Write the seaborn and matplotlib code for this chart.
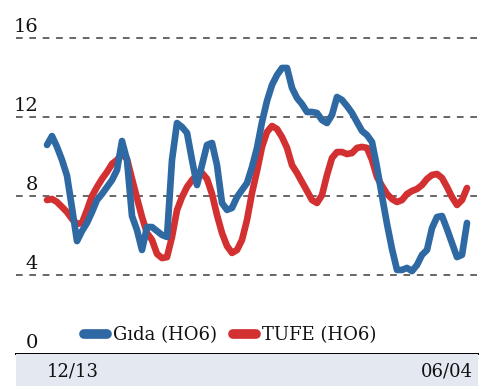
import numpy as np
import pandas as pd
import matplotlib
matplotlib.use("Agg")
import matplotlib.pyplot as plt
import seaborn as sns
from matplotlib.lines import Line2D

# ---- data ----
gida = [10.59, 11.04, 10.49, 9.83, 9.03, 7.40, 5.72, 6.23, 6.64, 7.19,
        7.80, 8.11, 8.46, 8.81, 9.32, 10.79, 9.83, 6.99, 6.28, 5.27,
        6.43, 6.43, 6.23, 6.03, 5.93, 9.83, 11.70, 11.50, 11.20, 9.83,
        8.56, 9.57, 10.59, 10.69, 9.57, 7.65, 7.30, 7.40, 7.95, 8.31,
        8.66, 9.47, 10.44, 11.75, 12.82, 13.63, 14.13, 14.49, 14.49, 13.48,
        12.97, 12.66, 12.26, 12.26, 12.21, 11.85, 11.70, 12.11, 13.02, 12.87,
        12.56, 12.21, 11.75, 11.30, 11.09, 10.74, 9.47, 8.00, 6.59, 5.32,
        4.26, 4.26, 4.36, 4.20, 4.51, 5.02, 5.27, 6.38, 6.94, 6.99,
        6.33, 5.62, 4.91, 5.02, 6.64]
tufe = [7.80, 7.85, 7.70, 7.45, 7.19, 6.84, 6.59, 6.64, 7.29, 8.00,
        8.46, 8.87, 9.22, 9.63, 9.83, 10.13, 9.88, 8.87, 7.90, 6.94,
        6.13, 5.78, 5.07, 4.86, 4.91, 5.93, 7.29, 7.95, 8.46, 8.81,
        9.07, 9.17, 8.87, 8.11, 7.04, 6.13, 5.47, 5.12, 5.27, 5.78,
        6.79, 8.16, 9.27, 10.49, 11.25, 11.55, 11.40, 10.99, 10.44, 9.57,
        9.17, 8.71, 8.26, 7.80, 7.65, 8.05, 9.07, 9.93, 10.23, 10.23,
        10.13, 10.18, 10.44, 10.49, 10.44, 9.83, 8.97, 8.51, 8.11, 7.85,
        7.70, 7.80, 8.11, 8.26, 8.36, 8.56, 8.87, 9.07, 9.12, 8.92,
        8.46, 7.95, 7.55, 7.80, 8.41]
series_names = ["Gıda (HO6)", "TUFE (HO6)"]
y_ticks = [0, 4, 8, 12, 16]
x_labels = ["12/13", "06/04"]

colors = {"Gıda (HO6)": "#2f69a3", "TUFE (HO6)": "#d33032"}

n = len(gida)
df = pd.DataFrame({
    "t": list(range(n)) * 2,
    "v": gida + tufe,
    "s": [series_names[0]] * n + [series_names[1]] * n,
})

sns.set_theme(style="white")
plt.rcParams["font.family"] = ["DejaVu Serif"]

W, H = 500, 389
fig = plt.figure(figsize=(W / 100, H / 100), dpi=100)

# pixel geometry
left_px, right_px = 16, 478
y0_px = 354          # value 0
ppu = 19.74          # pixels per unit
ymax = 17.0
top_px = y0_px - ymax * ppu
ax = fig.add_axes([left_px / W, (H - y0_px) / H,
                   (right_px - left_px) / W, (y0_px - top_px) / H])

x_first_px, step_px = 47, 5.0
xmin = -(x_first_px - left_px) / step_px
xmax = (right_px - x_first_px) / step_px

# grid
for v in y_ticks[1:]:
    ax.axhline(v, color="#5a5a5a", lw=1.3, linestyle=(0, (3.7, 3.7)), zorder=1)

# draw TUFE first so Gıda sits on top
sns.lineplot(data=df, x="t", y="v", hue="s", hue_order=[series_names[1], series_names[0]],
             palette=colors, ax=ax, linewidth=4.8, legend=False, zorder=3,
             solid_capstyle="round", solid_joinstyle="round")

ax.set_xlim(xmin, xmax)
ax.set_ylim(0, ymax)
ax.set_xticks([])
ax.set_yticks([])
ax.set_xlabel("")
ax.set_ylabel("")
for s in ["top", "left", "right"]:
    ax.spines[s].set_visible(False)
ax.spines["bottom"].set_color("black")
ax.spines["bottom"].set_linewidth(1.4)
ax.patch.set_alpha(0)

lab_x = (38 - left_px) / (right_px - left_px)
for v in y_ticks:
    ax.annotate(str(v), xy=(lab_x, v), xycoords=("axes fraction", "data"),
                xytext=(0, 4.3), textcoords="offset points",
                ha="right", va="baseline", fontsize=14, color="#111111")

# legend
handles = [Line2D([0], [0], color=colors[s], lw=7, solid_capstyle="round") for s in series_names]
leg = ax.legend(handles, series_names, loc="center", ncol=2, frameon=False,
                bbox_to_anchor=((230 - left_px) / (right_px - left_px), 19 / (y0_px - top_px)),
                fontsize=13, handlelength=1.3, handletextpad=0.3,
                columnspacing=0.9)
for t in leg.get_texts():
    t.set_color("#111111")

# bottom band
band_top, band_bot = 354, 386
bax = fig.add_axes([left_px / W, (H - band_bot) / H,
                    (right_px - left_px) / W, (band_bot - band_top) / H],
                   sharex=ax)
bax.set_facecolor("#e3e8f1")
bax.set_ylim(0, 1)
bax.tick_params(left=False, bottom=False, labelleft=False, labelbottom=False)
for s in bax.spines.values():
    s.set_visible(False)
bax.text(0, 0.45, x_labels[0], ha="left", va="center", fontsize=13, color="#111111")
bax.text((473 - x_first_px) / step_px, 0.45, x_labels[1], ha="right", va="center",
         fontsize=13, color="#111111")
bax.set_xlim(xmin, xmax)

fig.savefig("out.png", dpi=100)
